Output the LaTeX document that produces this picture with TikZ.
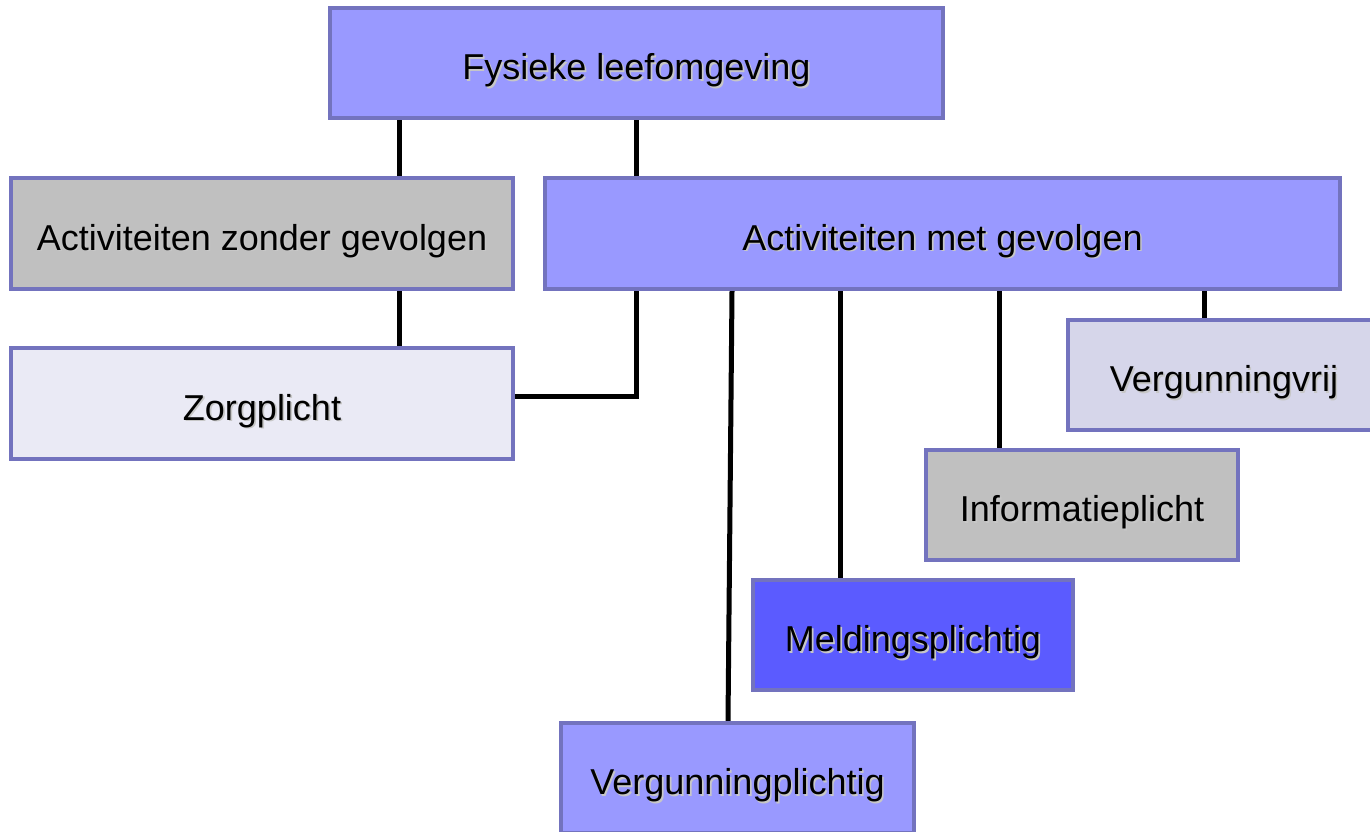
\documentclass[tikz,border=0pt]{standalone}
\usepackage{fontspec}
\setmainfont{Liberation Sans}
\usetikzlibrary{calc,backgrounds}
\definecolor{bordc}{HTML}{7373BE}
\definecolor{mainf}{HTML}{9999FF}
\definecolor{grayf}{HTML}{C0C0C0}
\definecolor{palef}{HTML}{EAEAF5}
\definecolor{lilaf}{HTML}{D6D6EA}
\definecolor{darkf}{HTML}{5B5BFF}
\newcommand\shd[1]{\makebox[0pt][l]{\kern1.6pt\raisebox{-1.6pt}{\color{black!22}#1}}#1}
\tikzset{
  box/.style={draw=bordc, line width=4pt, rectangle, inner sep=0pt,
    text height=37pt, text depth=4pt,
    font=\fontsize{36}{40}\selectfont},
  conn/.style={draw=black, line width=5pt}
}
\begin{document}
\begin{tikzpicture}[x=1pt,y=-1pt]
\useasboundingbox (0,0) rectangle (1370,832);
\clip (0,0) rectangle (1370,832);
\node[box, fill=mainf, minimum width=613, minimum height=110] (fys) at (636.5,63) {\shd{Fysieke leefomgeving}};
\node[box, fill=grayf, minimum width=502, minimum height=111] (zonder) at (262,233.5) {\shd{Activiteiten zonder gevolgen}};
\node[box, fill=mainf, minimum width=795, minimum height=111] (met) at (942.5,233.5) {\shd{Activiteiten met gevolgen}};
\node[box, fill=palef, minimum width=502, minimum height=111] (zorg) at (262,403.5) {\shd{Zorgplicht}};
\node[box, fill=lilaf, minimum width=312, minimum height=110] (vrij) at (1224,375) {\shd{Vergunningvrij}};
\node[box, fill=grayf, minimum width=312, minimum height=110] (info) at (1082,505) {\shd{Informatieplicht}};
\node[box, fill=darkf, minimum width=320, minimum height=110] (meld) at (913,635) {\shd{Meldingsplichtig}};
\node[box, fill=mainf, minimum width=353, minimum height=110] (vpl) at (737.5,778) {\shd{Vergunningplichtig}};
\coordinate (xa) at (399,0);
\coordinate (xb) at (732,0);
\coordinate (xc) at (728,0);
\coordinate (xd) at (840,0);
\coordinate (xe) at (999,0);
\coordinate (xf) at (1204,0);
\begin{scope}[on background layer]
\draw[conn] (fys.south -| xa) -- (zonder.north -| xa);
\draw[conn] (fys.south) -- (fys.south |- met.north);
\draw[conn] (zonder.south -| xa) -- (zorg.north -| xa);
\draw[conn] (met.south -| fys.south) |- ($(zorg.east)+(0,-7)$);
\draw[conn] (met.south -| xb) -- (vpl.north -| xc);
\draw[conn] (met.south -| xd) -- (meld.north -| xd);
\draw[conn] (met.south -| xe) -- (info.north -| xe);
\draw[conn] (met.south -| xf) -- (vrij.north -| xf);
\end{scope}
\end{tikzpicture}
\end{document}
